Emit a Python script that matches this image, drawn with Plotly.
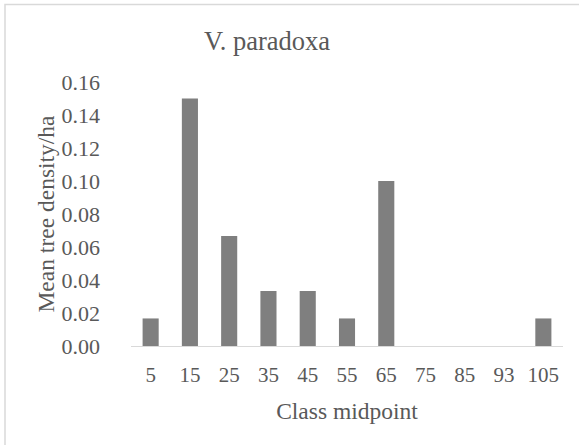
import plotly.graph_objects as go

categories = ["5", "15", "25", "35", "45", "55", "65", "75", "85", "93", "105"]
density = [0.0167, 0.15, 0.0667, 0.0333, 0.0333, 0.0167, 0.10, 0, 0, 0, 0.0167]
y_ticks = [0.00, 0.02, 0.04, 0.06, 0.08, 0.10, 0.12, 0.14, 0.16]

W, H = 579, 445
L, R, T, B = 131, 16, 82, 99
pw, ph = W - L - R, H - T - B

font = dict(family="Liberation Serif", color="#595959")

fig = go.Figure(go.Bar(x=categories, y=density, marker=dict(color="#7f7f7f", line=dict(width=0))))

fig.update_layout(
    width=W, height=H,
    margin=dict(l=L, r=R, t=T, b=B, autoexpand=False),
    paper_bgcolor="white", plot_bgcolor="white",
    bargap=0.59,
    showlegend=False,
    font=dict(size=21, **font),
    title=dict(text="V. paradoxa", font=dict(size=26.5, **font),
               x=267 / W, xref="container", xanchor="center",
               y=1 - 41 / H, yref="container", yanchor="middle"),
    xaxis=dict(type="category", showline=True, linecolor="#d9d9d9", linewidth=1,
               showgrid=False, ticks="", tickfont=dict(size=21, **font),
               ticklabelstandoff=10, automargin=False,
               title=dict(text="Class midpoint", font=dict(size=23.5, **font), standoff=16)),
    yaxis=dict(range=[0, 0.16], tickvals=y_ticks, tickformat=".2f", showgrid=False,
               zeroline=False, showline=False, ticks="", tickfont=dict(size=22, **font),
               ticklabelstandoff=30, automargin=False,
               title=dict(text="Mean tree density/ha", font=dict(size=23.5, **font), standoff=0)),
    shapes=[dict(type="rect", xref="paper", yref="paper",
                 x0=(5 - L) / pw, x1=1.2, y0=-0.6, y1=1 + (T - 4.5) / ph,
                 line=dict(color="#d9d9d9", width=1.5), fillcolor="rgba(0,0,0,0)", layer="below")],
)

fig.write_html("out.html", config={"displayModeBar": False},
               post_script="document.body.style.margin='0';")
